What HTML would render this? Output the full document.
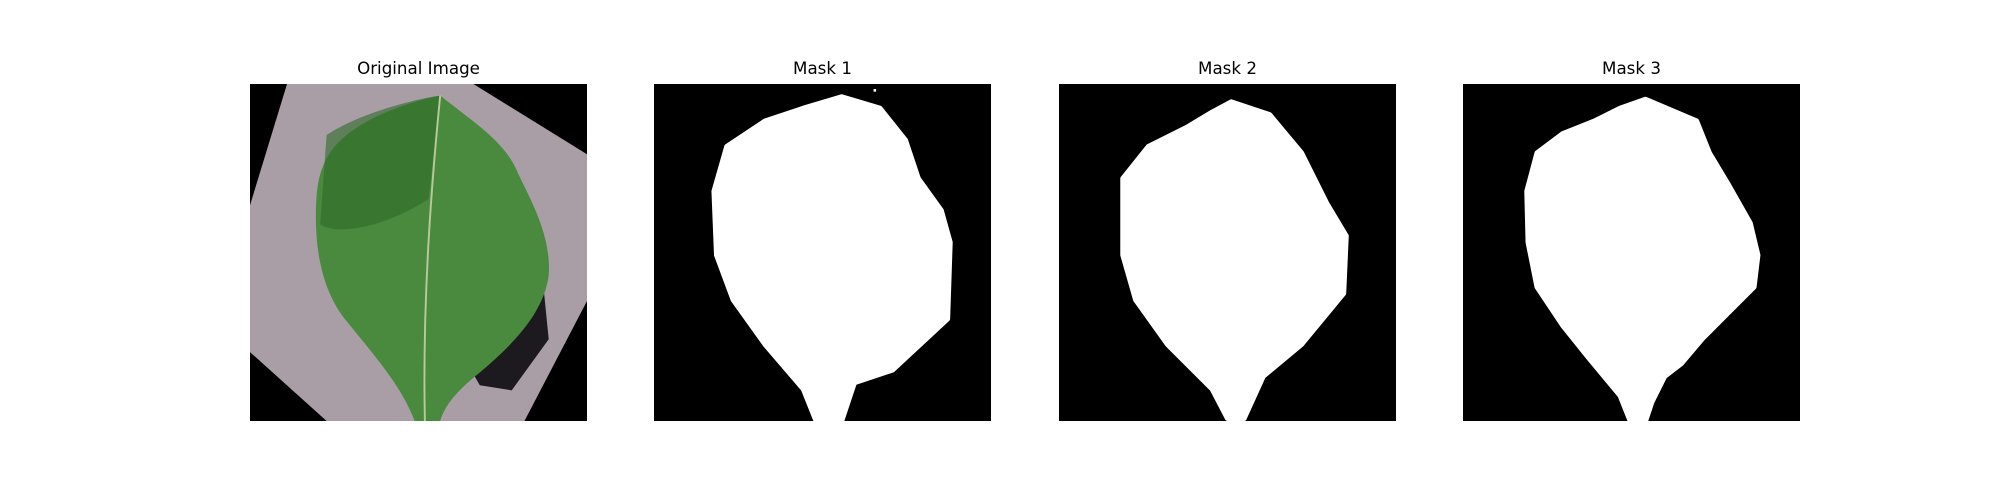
<!DOCTYPE html>
<html><head><meta charset="utf-8"><style>
html,body{margin:0;padding:0;background:#fff;}
body{width:2000px;height:500px;position:relative;overflow:hidden;font-family:"DejaVu Sans","Liberation Sans",sans-serif;}
.t{position:absolute;top:58px;width:337px;text-align:center;font-size:16.7px;color:#000;}
svg{position:absolute;top:84px;width:337px;height:337px;}
</style></head><body>
<div class="t" style="left:250px">Original Image</div>
<div class="t" style="left:654px">Mask 1</div>
<div class="t" style="left:1059px">Mask 2</div>
<div class="t" style="left:1463px">Mask 3</div>

<svg style="left:250px" viewBox="0 0 264 264">
<rect width="264" height="264" fill="#000"/>
<polygon points="29,0 175,0 264,55 264,170 215,264 60,264 0,210 0,95" fill="#a99ea6"/>
<polygon points="168,215 230,160 234,200 205,240 180,236" fill="#1c1a1e"/>
<path d="M149,9 C175,30 200,45 210,70 C222,95 236,120 234,150 C230,180 205,205 180,226 C165,238 153,250 149,264 L129,264 C118,235 95,210 75,185 C55,160 50,125 52,90 C54,55 70,40 100,25 C120,16 135,12 149,9 Z" fill="#4a8a3e"/>
<path d="M60,40 C90,20 140,10 149,9 L140,90 C110,110 70,120 55,110 Z" fill="#2f6a2a" opacity="0.6"/>
<path d="M149,9 C142,80 135,170 137,264" stroke="#b9c99a" stroke-width="1.5" fill="none"/>
</svg>

<svg style="left:654px" viewBox="0 0 264 264">
<rect width="264" height="264" fill="#000"/>
<polygon points="147,10 177,19 197,44 207,74 225,99 232,124 230,184 187,224 157,234 147,264 127,264 117,239 87,204 62,169 49,134 47,84 57,49 87,29 117,19" fill="#fff" stroke="#fff" stroke-width="4" stroke-linejoin="round"/>
<rect x="172" y="4" width="2" height="2" fill="#fff"/>
</svg>

<svg style="left:1059px" viewBox="0 0 264 264">
<rect width="264" height="264" fill="#000"/>
<polygon points="135,14 165,24 190,54 210,94 225,119 223,164 190,204 160,229 145,262 132,262 120,239 85,204 60,169 50,134 50,74 70,49 100,34 120,22" fill="#fff" stroke="#fff" stroke-width="4" stroke-linejoin="round"/>
</svg>

<svg style="left:1463px" viewBox="0 0 264 264">
<rect width="264" height="264" fill="#000"/>
<polygon points="143,12 183,29 193,54 208,79 225,109 231,134 228,159 208,179 188,199 171,219 158,229 148,249 143,264 131,264 123,244 98,214 78,189 58,159 51,124 50,84 58,54 78,39 103,29 123,19" fill="#fff" stroke="#fff" stroke-width="4" stroke-linejoin="round"/>
</svg>
</body></html>
